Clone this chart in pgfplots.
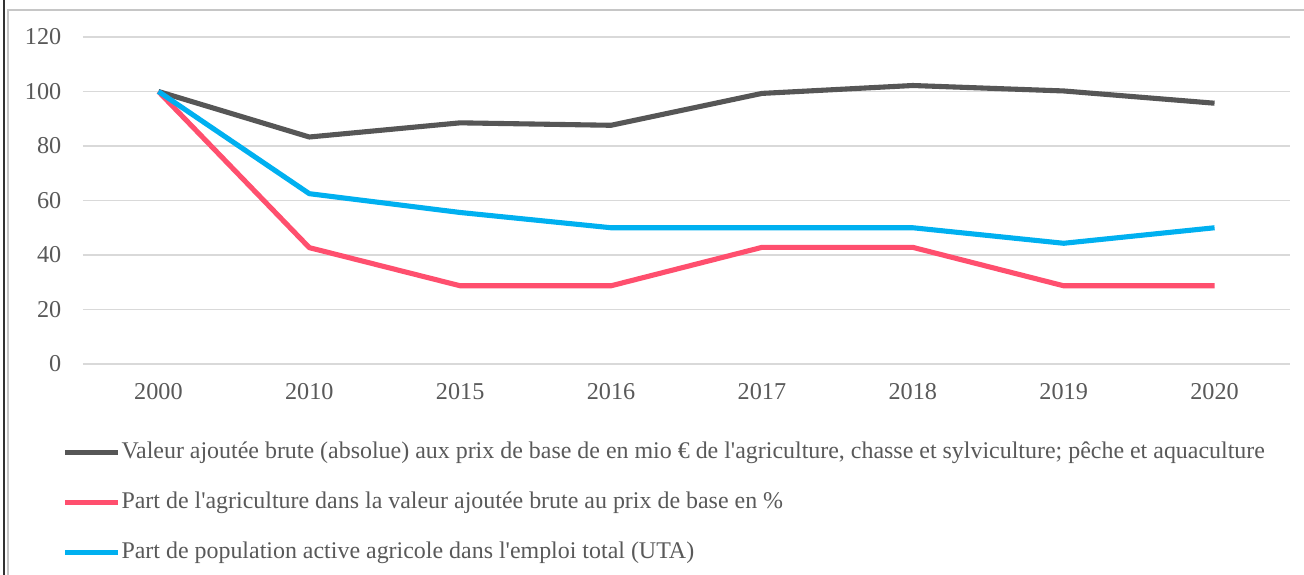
\documentclass[border=0pt]{standalone}
\usepackage{fontspec}
\setmainfont{Liberation Serif}
\usepackage{pgfplots}
\pgfplotsset{compat=1.18}
\definecolor{vab}{HTML}{565656}
\definecolor{partagri}{HTML}{FF4F6E}
\definecolor{partpop}{HTML}{00B0F0}
\definecolor{gridc}{HTML}{D9D9D9}
\definecolor{txt}{HTML}{595959}
\newcommand{\ap}{\textquotesingle}

\begin{document}
\begin{tikzpicture}
\useasboundingbox (0,0) rectangle (18,7.937);
\fill[white] (0,0) rectangle (18,7.937);
% page border and chart frame
\draw[black!80, line width=0.8pt] (0.055,0) -- (0.055,7.937);
\draw[gray!45, line width=0.6pt] (0.110,0) -- (0.110,7.799) -- (18,7.799);

\begin{axis}[
  at={(1.1457cm,2.9126cm)}, anchor=south west,
  scale only axis,
  width=16.661cm, height=4.5138cm,
  xmin=-0.5, xmax=7.5,
  ymin=0, ymax=120,
  xtick={0,...,7},
  xticklabels={2000,2010,2015,2016,2017,2018,2019,2020},
  ytick={0,20,...,120},
  ymajorgrids,
  grid style={gridc, line width=0.6pt},
  axis line style={draw=none},
  major tick length=0pt,
  tick label style={font=\fontsize{9.5}{11}\selectfont, text=txt},
  /pgf/number format/assume math mode=true,
  yticklabel style={xshift=-5pt},
  xticklabel style={yshift=-4pt},
  every axis plot/.append style={line width=2pt, line join=round, no markers},
  legend cell align=left,
  legend image code/.code={\draw[#1] (0cm,0cm) -- (0.73cm,0cm);},
  legend style={at={(-0.0174,-0.222)}, anchor=north west, draw=none,
    fill=none, font=\fontsize{9.4}{11}\selectfont, text=txt,
    row sep=7.6pt, inner sep=0pt,
    nodes={inner xsep=0.4pt}},
]
  % valeur ajoutee brute (indice 2000 = 100)
  \addplot[color=vab] coordinates {
    (0,100) (1,83.3) (2,88.5) (3,87.6) (4,99.3) (5,102.2) (6,100.2) (7,95.7)};
  \addlegendentry{Valeur ajoutée brute (absolue) aux prix de base de en mio € de l\ap agriculture,  chasse et sylviculture; pêche et aquaculture}

  % part de l'agriculture dans la VAB
  \addplot[color=partagri] coordinates {
    (0,100) (1,42.7) (2,28.7) (3,28.7) (4,42.8) (5,42.8) (6,28.7) (7,28.7)};
  \addlegendentry{Part de l\ap agriculture dans la valeur ajoutée brute au prix de base en \%}

  % part de la population active agricole
  \addplot[color=partpop] coordinates {
    (0,100) (1,62.5) (2,55.6) (3,50) (4,50) (5,50) (6,44.3) (7,50)};
  \addlegendentry{Part de population active agricole dans l\ap emploi total (UTA)}
\end{axis}
\end{tikzpicture}
\end{document}
